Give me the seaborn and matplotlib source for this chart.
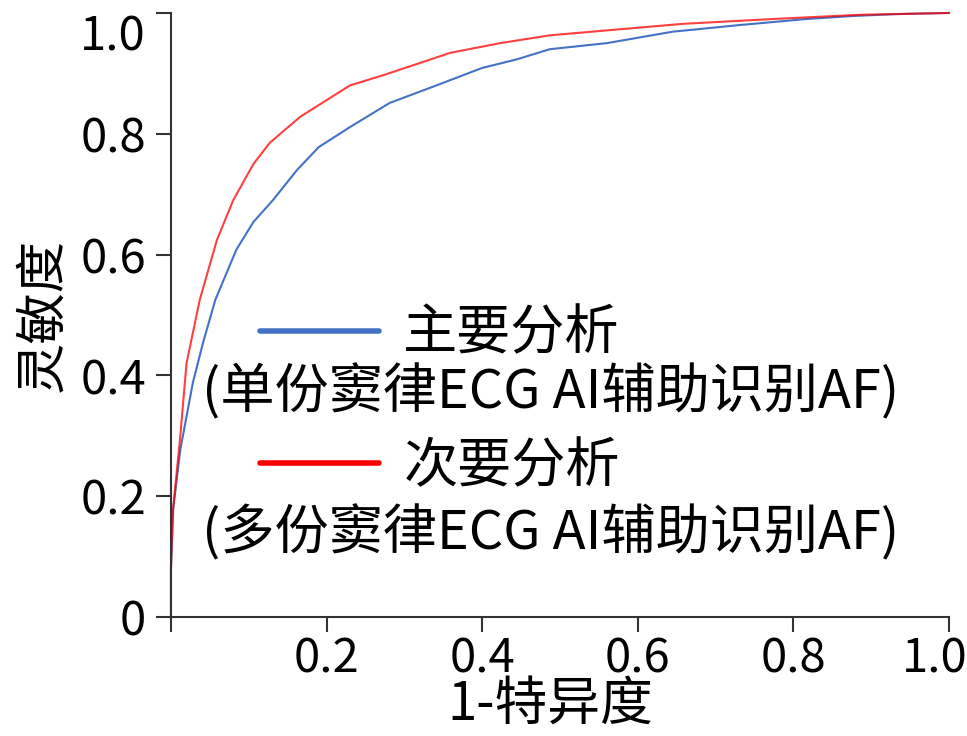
import numpy as np
import pandas as pd
import matplotlib
matplotlib.use("Agg")
import matplotlib.pyplot as plt
import matplotlib.transforms as mtransforms
import seaborn as sns

# ROC 曲线上读出的点 (1-特异度, 灵敏度)
fpr_main = [0, 0, 0.003, 0.012, 0.028, 0.041, 0.057, 0.084, 0.106, 0.131, 0.162, 0.19,
            0.23, 0.281, 0.337, 0.40, 0.444, 0.487, 0.56, 0.645, 0.731, 0.817, 0.877, 0.93, 1.0]
tpr_main = [0, 0.08, 0.18, 0.277, 0.387, 0.453, 0.525, 0.608, 0.654, 0.69, 0.74, 0.778,
            0.811, 0.851, 0.878, 0.909, 0.923, 0.94, 0.95, 0.969, 0.98, 0.99, 0.995, 0.998, 1.0]
fpr_sub = [0, 0, 0.002, 0.012, 0.02, 0.037, 0.059, 0.08, 0.106, 0.127, 0.166, 0.23,
           0.273, 0.359, 0.423, 0.487, 0.658, 0.774, 0.886, 1.0]
tpr_sub = [0, 0.08, 0.17, 0.30, 0.42, 0.525, 0.624, 0.69, 0.75, 0.785, 0.828, 0.88,
           0.897, 0.934, 0.95, 0.963, 0.982, 0.99, 0.997, 1.0]

series_names = ['主要分析', '次要分析']
series_notes = ['(单份窦律ECG AI辅助识别AF)', '(多份窦律ECG AI辅助识别AF)']
xtick_vals = [0, 0.2, 0.4, 0.6, 0.8, 1.0]
xtick_labels = ['', '0.2', '0.4', '0.6', '0.8', '1.0']
ytick_vals = [0, 0.2, 0.4, 0.6, 0.8, 1.0]
ytick_labels = ['0', '0.2', '0.4', '0.6', '0.8', '1.0']

df = pd.concat([
    pd.DataFrame({'fpr': fpr_main, 'tpr': tpr_main, 'analysis': series_names[0]}),
    pd.DataFrame({'fpr': fpr_sub, 'tpr': tpr_sub, 'analysis': series_names[1]}),
], ignore_index=True)

sns.set_style('ticks')
plt.rcParams['font.family'] = ['Noto Sans CJK SC', 'DejaVu Sans']
plt.rcParams['text.color'] = 'black'
plt.rcParams['axes.labelcolor'] = 'black'
plt.rcParams['xtick.labelcolor'] = 'black'
plt.rcParams['ytick.labelcolor'] = 'black'

fig = plt.figure(figsize=(9.67, 7.36), dpi=100)
ax = fig.add_axes([0.1768, 0.1617, 0.8046, 0.8207])

palette = {series_names[0]: '#4472C4', series_names[1]: '#FF0000'}
sns.lineplot(data=df, x='fpr', y='tpr', hue='analysis', palette=palette,
             sort=False, estimator=None, linewidth=1.5, ax=ax, legend=False)
for ln in ax.lines:
    ln.set_clip_on(False)
ax.lines[1].set_alpha(0.75)

ax.set_xlim(0, 1)
ax.set_ylim(0, 1)
ax.set_xticks(xtick_vals)
ax.set_xticklabels(xtick_labels, fontsize=34)
ax.set_yticks(ytick_vals)
ax.set_yticklabels(ytick_labels, fontsize=34)
ax.tick_params(axis='both', length=11, width=1.5, color='#333333')
ax.tick_params(axis='x', pad=2)
ax.tick_params(axis='y', pad=7)
for s in ['left', 'bottom']:
    ax.spines[s].set_linewidth(1.5)
    ax.spines[s].set_color('#333333')
sns.despine(ax=ax)

# 端点的刻度标签往里挪, 免得被裁掉
last_x = ax.get_xticklabels()[-1]
last_x.set_transform(last_x.get_transform() +
                     mtransforms.ScaledTranslation(-0.14, 0, fig.dpi_scale_trans))
ax.get_yticklabels()[-1].set_va('top')

ax.set_xlabel('1-特异度', fontsize=38)
ax.set_ylabel('灵敏度', fontsize=37)
ax.xaxis.set_label_coords(0.487, -0.099)
ax.yaxis.set_label_coords(-0.13, 0.5)

# 图例: 颜色线 + 名称, 括号说明另起一行
handles = [plt.Line2D([], [], color=palette[n], linewidth=4) for n in series_names]
leg = ax.legend(handles, series_names, loc='upper left', bbox_to_anchor=(0.114, 0.514),
                frameon=False, fontsize=39, handlelength=2.2, handletextpad=0.45,
                labelspacing=1.43, borderpad=0, borderaxespad=0)
ax.text(0.488, 0.3725, series_notes[0], transform=ax.transAxes, fontsize=39,
        ha='center', va='center')
ax.text(0.488, 0.139, series_notes[1], transform=ax.transAxes, fontsize=39,
        ha='center', va='center')

fig.savefig('out.png', dpi=100)
